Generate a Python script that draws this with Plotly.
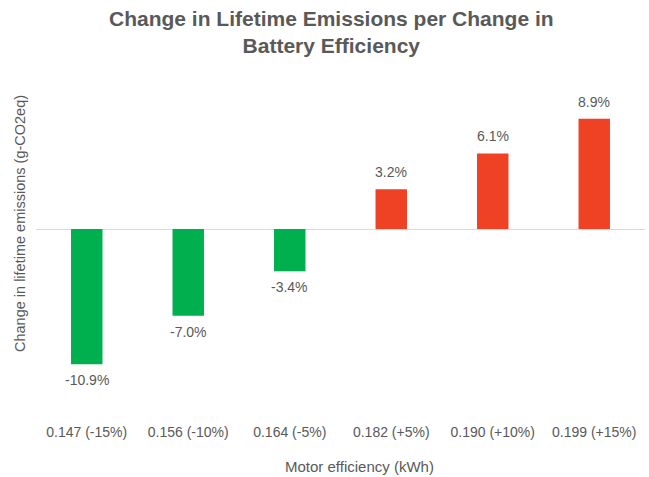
import plotly.graph_objects as go

categories = ["0.147 (-15%)", "0.156 (-10%)", "0.164 (-5%)",
              "0.182 (+5%)", "0.190 (+10%)", "0.199 (+15%)"]
change_pct = [-10.9, -7.0, -3.4, 3.2, 6.1, 8.9]

GREEN = "#00B04F"
RED = "#EF4124"
GREY = "#595959"
FONT = "Liberation Sans, Arial"

colors = [GREEN if v < 0 else RED for v in change_pct]
labels = [f"{v:.1f}%" for v in change_pct]

W, H = 649, 477
L, R, T, B = 36, 4, 75, 57
pw, ph = W - L - R, H - T - B

fig = go.Figure(go.Bar(
    x=categories,
    y=change_pct,
    marker=dict(color=colors, line=dict(width=0)),
))

# value labels sit just beyond the end of each bar
value_anns = [
    dict(x=c, y=v, text=t, showarrow=False, xref="x", yref="y",
         yanchor="bottom" if v >= 0 else "top",
         yshift=7 if v >= 0 else -6,
         font=dict(family=FONT, size=14, color=GREY))
    for c, v, t in zip(categories, change_pct, labels)
]


def pix(xp, yp):
    return (xp - L) / pw, (H - B - yp) / ph


tx, ty = pix(331, 32)
xx, xy = pix(359, 466)
yx, yy = pix(20, 224)

text_anns = [
    dict(text="<b>Change in Lifetime Emissions per Change in<br>Battery Efficiency</b>",
         x=tx, y=ty, xref="paper", yref="paper", showarrow=False,
         xanchor="center", yanchor="middle",
         font=dict(family=FONT, size=21, color=GREY)),
    dict(text="Motor efficiency (kWh)", x=xx, y=xy, xref="paper", yref="paper",
         showarrow=False, xanchor="center", yanchor="middle",
         font=dict(family=FONT, size=15, color=GREY)),
    dict(text="Change in lifetime emissions (g-CO2eq)", textangle=-90,
         x=yx, y=yy, xref="paper", yref="paper", showarrow=False,
         xanchor="center", yanchor="middle",
         font=dict(family=FONT, size=14.5, color=GREY)),
]

fig.update_layout(
    width=W, height=H,
    margin=dict(l=L, r=R, t=T, b=B),
    paper_bgcolor="white", plot_bgcolor="white",
    bargap=0.69,
    showlegend=False,
    font=dict(family=FONT, color=GREY),
    xaxis=dict(
        showgrid=False, showline=False, ticks="",
        tickfont=dict(size=14, color=GREY),
        ticklabelstandoff=2,
    ),
    yaxis=dict(
        range=[-15.4, 12.42],
        showgrid=False, showticklabels=False, ticks="",
        zeroline=True, zerolinecolor="#D9D9D9", zerolinewidth=1,
    ),
    annotations=value_anns + text_anns,
)

fig.write_html("out.html")
